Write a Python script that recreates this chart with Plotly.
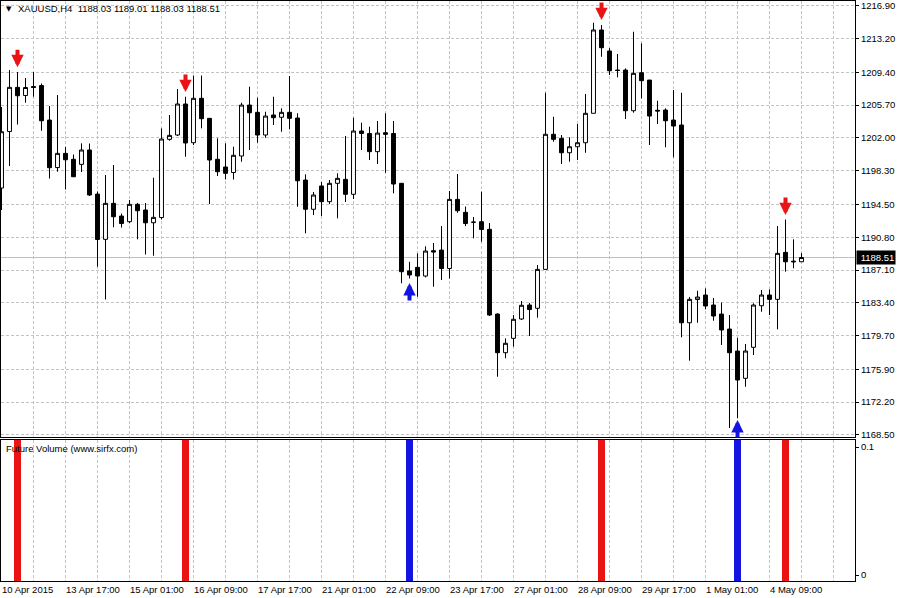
import plotly.graph_objects as go

# ---------------- data (XAUUSD H4) ----------------
open_ = [1196.35, 1202.72, 1207.71, 1206.79, 1207.80, 1207.91, 1204.02, 1198.66, 1200.26, 1199.59,
         1199.02, 1200.64, 1195.67, 1190.56, 1194.62, 1193.19, 1192.55, 1194.51, 1193.87, 1192.43,
         1193.02, 1201.84, 1202.33, 1205.83, 1201.46, 1206.47, 1204.21, 1199.59, 1198.72, 1198.10,
         1199.96, 1205.71, 1204.89, 1202.33, 1204.59, 1204.33, 1204.89, 1204.25, 1197.25, 1193.95,
         1196.58, 1194.81, 1196.88, 1197.33, 1195.64, 1202.78, 1202.50, 1200.45, 1202.59, 1202.50,
         1196.88, 1186.99, 1187.40, 1186.42, 1189.28, 1189.35, 1187.27, 1195.07, 1193.61, 1192.48,
         1192.55, 1191.69, 1182.13, 1177.77, 1179.39, 1181.57, 1183.15, 1182.78, 1187.17, 1202.41,
         1201.96, 1200.33, 1201.01, 1201.46, 1204.78, 1214.18, 1211.81, 1209.66, 1209.66, 1205.07,
         1209.36, 1208.53, 1205.12, 1205.15, 1204.02, 1203.46, 1181.15, 1183.77, 1184.28, 1183.15,
         1182.13, 1180.44, 1177.96, 1174.88, 1178.38, 1183.07, 1184.28, 1183.79, 1189.09, 1188.10,
         1188.03]
high = [1205.49, 1209.66, 1209.44, 1208.76, 1209.44, 1208.14, 1205.60, 1206.84, 1200.98, 1200.13,
        1201.39, 1201.37, 1195.95, 1197.82, 1198.94, 1193.47, 1195.00, 1194.66, 1194.66, 1197.51,
        1203.08, 1204.59, 1207.52, 1206.65, 1209.04, 1209.04, 1204.25, 1201.96, 1201.39, 1201.01,
        1205.97, 1207.78, 1206.54, 1204.96, 1206.65, 1205.34, 1208.99, 1204.78, 1197.89, 1195.90,
        1197.03, 1197.25, 1198.01, 1202.22, 1204.28, 1203.72, 1203.27, 1203.91, 1204.78, 1203.91,
        1196.91, 1188.03, 1188.98, 1189.77, 1190.15, 1192.06, 1196.01, 1197.93, 1194.26, 1193.08,
        1195.93, 1192.40, 1182.21, 1179.39, 1182.02, 1183.60, 1183.38, 1187.66, 1207.10, 1204.39,
        1202.33, 1202.07, 1203.57, 1206.96, 1215.00, 1214.74, 1212.14, 1211.47, 1209.85, 1213.98,
        1212.67, 1208.53, 1206.20, 1205.34, 1207.41, 1207.10, 1184.05, 1184.76, 1185.03, 1183.94,
        1183.43, 1182.02, 1179.43, 1178.75, 1183.34, 1184.84, 1184.92, 1192.06, 1192.80, 1190.56,
        1189.01]
low = [1193.87, 1198.83, 1203.51, 1205.97, 1206.65, 1202.81, 1197.42, 1198.19, 1196.18, 1197.59,
       1198.15, 1195.45, 1187.47, 1183.77, 1191.92, 1191.89, 1192.40, 1190.56, 1188.85, 1188.71,
       1192.80, 1201.69, 1202.22, 1199.88, 1201.20, 1203.08, 1194.54, 1197.70, 1197.31, 1197.31,
       1199.32, 1200.64, 1201.46, 1202.02, 1203.46, 1202.70, 1202.97, 1194.24, 1191.24, 1193.30,
       1193.19, 1194.54, 1192.93, 1194.77, 1195.11, 1200.64, 1199.51, 1199.06, 1198.07, 1195.75,
       1185.60, 1186.14, 1184.09, 1186.27, 1185.21, 1185.97, 1186.14, 1193.56, 1192.06, 1190.67,
       1190.29, 1181.91, 1175.06, 1177.14, 1178.45, 1181.46, 1179.65, 1181.72, 1187.10, 1201.57,
       1199.06, 1199.32, 1199.51, 1200.33, 1204.78, 1211.16, 1209.10, 1208.84, 1204.14, 1204.85,
       1206.47, 1201.20, 1203.57, 1200.94, 1199.81, 1179.51, 1176.87, 1181.15, 1182.66, 1181.38,
       1178.64, 1169.27, 1170.40, 1173.93, 1177.51, 1182.39, 1182.02, 1180.41, 1186.91, 1187.29,
       1188.03]
close = [1202.70, 1207.71, 1206.76, 1207.69, 1207.69, 1203.94, 1198.64, 1200.26, 1199.54, 1197.62,
         1200.64, 1195.56, 1190.54, 1194.62, 1193.11, 1192.34, 1194.51, 1193.79, 1192.43, 1193.04,
         1201.88, 1202.29, 1205.83, 1201.43, 1206.47, 1204.17, 1199.51, 1198.19, 1198.01, 1200.04,
         1205.71, 1204.84, 1202.33, 1204.47, 1204.28, 1204.89, 1204.21, 1197.17, 1193.95, 1195.56,
         1194.81, 1196.88, 1197.44, 1195.64, 1202.78, 1202.50, 1200.45, 1202.55, 1202.41, 1196.80,
         1186.91, 1186.54, 1186.42, 1189.24, 1189.13, 1187.27, 1195.07, 1193.79, 1192.34, 1192.50,
         1191.67, 1182.02, 1177.77, 1178.83, 1181.54, 1183.12, 1182.64, 1187.17, 1202.41, 1201.84,
         1200.33, 1201.01, 1201.46, 1204.78, 1214.18, 1212.18, 1209.58, 1209.61, 1205.07, 1209.29,
         1208.46, 1204.47, 1205.04, 1203.94, 1203.34, 1181.15, 1183.79, 1184.05, 1183.04, 1181.91,
         1180.33, 1177.77, 1174.69, 1177.96, 1183.15, 1184.28, 1183.79, 1188.98, 1188.03, 1188.03,
         1188.51]
bar_index = list(range(len(close)))

time_label_index = [0, 8, 16, 24, 32, 40, 48, 56, 64, 72, 80, 88, 96]
time_labels = ["10 Apr 2015", "13 Apr 17:00", "15 Apr 01:00", "16 Apr 09:00", "17 Apr 17:00",
               "21 Apr 01:00", "22 Apr 09:00", "23 Apr 17:00", "27 Apr 01:00", "28 Apr 09:00",
               "29 Apr 17:00", "1 May 01:00", "4 May 09:00"]

price_ticks = [1216.90, 1213.20, 1209.40, 1205.70, 1202.00, 1198.30, 1194.50, 1190.80,
               1187.10, 1183.40, 1179.70, 1175.90, 1172.20, 1168.50]

sell_index = [2, 23, 75, 98]
sell_arrow_price = [1209.98, 1207.18, 1215.30, 1193.30]
buy_index = [51, 92]
buy_arrow_price = [1185.63, 1170.18]
sell_volume = [1, 1, 1, 1]
buy_volume = [1, 1]
volume_ticks = [0, 0.1]

last_price = 1188.51
title_text = "XAUUSD,H4\u00a0\u00a01188.03 1189.01 1188.03 1188.51"

# ---------------- styling ----------------
FONT = "Liberation Sans"
RED = "rgb(235,20,20)"
BLUE = "rgb(20,20,225)"
GRID = "#c4c4c4"

fig = go.Figure()

fig.add_trace(go.Candlestick(
    x=bar_index, open=open_, high=high, low=low, close=close,
    increasing=dict(line=dict(color="black", width=1), fillcolor="white"),
    decreasing=dict(line=dict(color="black", width=1), fillcolor="black"),
    whiskerwidth=0, xaxis="x", yaxis="y", showlegend=False, hoverinfo="skip"))

fig.add_trace(go.Bar(x=sell_index, y=sell_volume, base=-0.01, width=0.85,
                     marker=dict(color=RED, line=dict(width=0)),
                     xaxis="x2", yaxis="y2", showlegend=False))
fig.add_trace(go.Bar(x=buy_index, y=buy_volume, base=-0.01, width=0.85,
                     marker=dict(color=BLUE, line=dict(width=0)),
                     xaxis="x2", yaxis="y2", showlegend=False))

grid_vals = list(range(0, 105, 4))
grid_text = []
for v in grid_vals:
    grid_text.append(time_labels[time_label_index.index(v)] if v in time_label_index else "")

xr = [-0.0625, 106.6875]
common_x = dict(range=xr, showgrid=True, gridcolor=GRID, griddash="3px,2px", gridwidth=1,
                zeroline=False, showline=True, mirror=True, linecolor="black", linewidth=1,
                tickmode="array", tickvals=grid_vals)

annotations = []
for i, p in zip(sell_index, sell_arrow_price):
    annotations.append(dict(x=i, y=p, xref="x", yref="y", text="", showarrow=True,
                            ax=0, ay=-19, arrowcolor=RED, arrowwidth=4, arrowhead=2,
                            arrowsize=0.62, standoff=0))
for i, p in zip(buy_index, buy_arrow_price):
    annotations.append(dict(x=i, y=p, xref="x", yref="y", text="", showarrow=True,
                            ax=0, ay=19, arrowcolor=BLUE, arrowwidth=4, arrowhead=2,
                            arrowsize=0.62, standoff=0))

annotations.append(dict(xref="paper", yref="paper", x=0.004, y=1.0, xanchor="left", yanchor="top",
                        yshift=-2, text="\u25bc", showarrow=False,
                        font=dict(family="DejaVu Sans", size=7, color="black")))
annotations.append(dict(xref="paper", yref="paper", x=0.017, y=1.0, xanchor="left", yanchor="top",
                        yshift=0, text=title_text, showarrow=False,
                        font=dict(family=FONT, size=9.5, color="black")))
annotations.append(dict(xref="paper", yref="y2 domain", x=0.004, y=1.0, xanchor="left", yanchor="top",
                        yshift=-1, text="Future Volume (www.sirfx.com)", showarrow=False,
                        font=dict(family=FONT, size=9.5, color="black")))
annotations.append(dict(xref="paper", yref="y", x=1.0, y=last_price, xanchor="left", yanchor="middle",
                        xshift=1, text="\u00a0" + f"{last_price:.2f}",
                        showarrow=False, bgcolor="black", borderpad=1,
                        font=dict(family=FONT, size=9.5, color="white")))

fig.update_layout(
    width=898, height=598,
    margin=dict(l=1, r=43, t=1, b=17),
    paper_bgcolor="white", plot_bgcolor="white",
    bargap=0, barmode="overlay",
    xaxis=dict(common_x, anchor="y", showticklabels=False, ticks="",
               rangeslider=dict(visible=False)),
    xaxis2=dict(common_x, anchor="y2", matches="x", ticktext=grid_text,
                ticks="", ticklabelposition="outside right",
                tickfont=dict(family=FONT, size=9.5, color="black")),
    yaxis=dict(domain=[0.24828, 1.0], range=[1168.26, 1217.45], side="right", anchor="x",
               tickmode="array", tickvals=price_ticks, ticktext=[f"{v:.2f}" for v in price_ticks],
               ticks="outside", ticklen=3, tickcolor="black",
               showgrid=True, gridcolor=GRID, griddash="3px,2px", gridwidth=1,
               zeroline=False, showline=True, mirror=True, linecolor="black", linewidth=1,
               tickfont=dict(family=FONT, size=9.5, color="black")),
    yaxis2=dict(domain=[0.0, 0.2431], range=[-0.00469, 0.10547], side="right", anchor="x2",
                tickmode="array", tickvals=volume_ticks, ticktext=["0", "0.1"],
                ticks="outside", ticklen=3, tickcolor="black",
                showgrid=False, zeroline=False, showline=True, mirror=True,
                linecolor="black", linewidth=1,
                tickfont=dict(family=FONT, size=9.5, color="black")),
    shapes=[dict(type="line", xref="x domain", yref="y", x0=0, x1=1, y0=last_price, y1=last_price,
                 line=dict(color="#c0c0c0", width=1), layer="below")],
    annotations=annotations,
)

fig.write_html("out.html", config={"displayModeBar": False},
               post_script="document.body.style.margin='0px';document.body.style.overflow='hidden';")
